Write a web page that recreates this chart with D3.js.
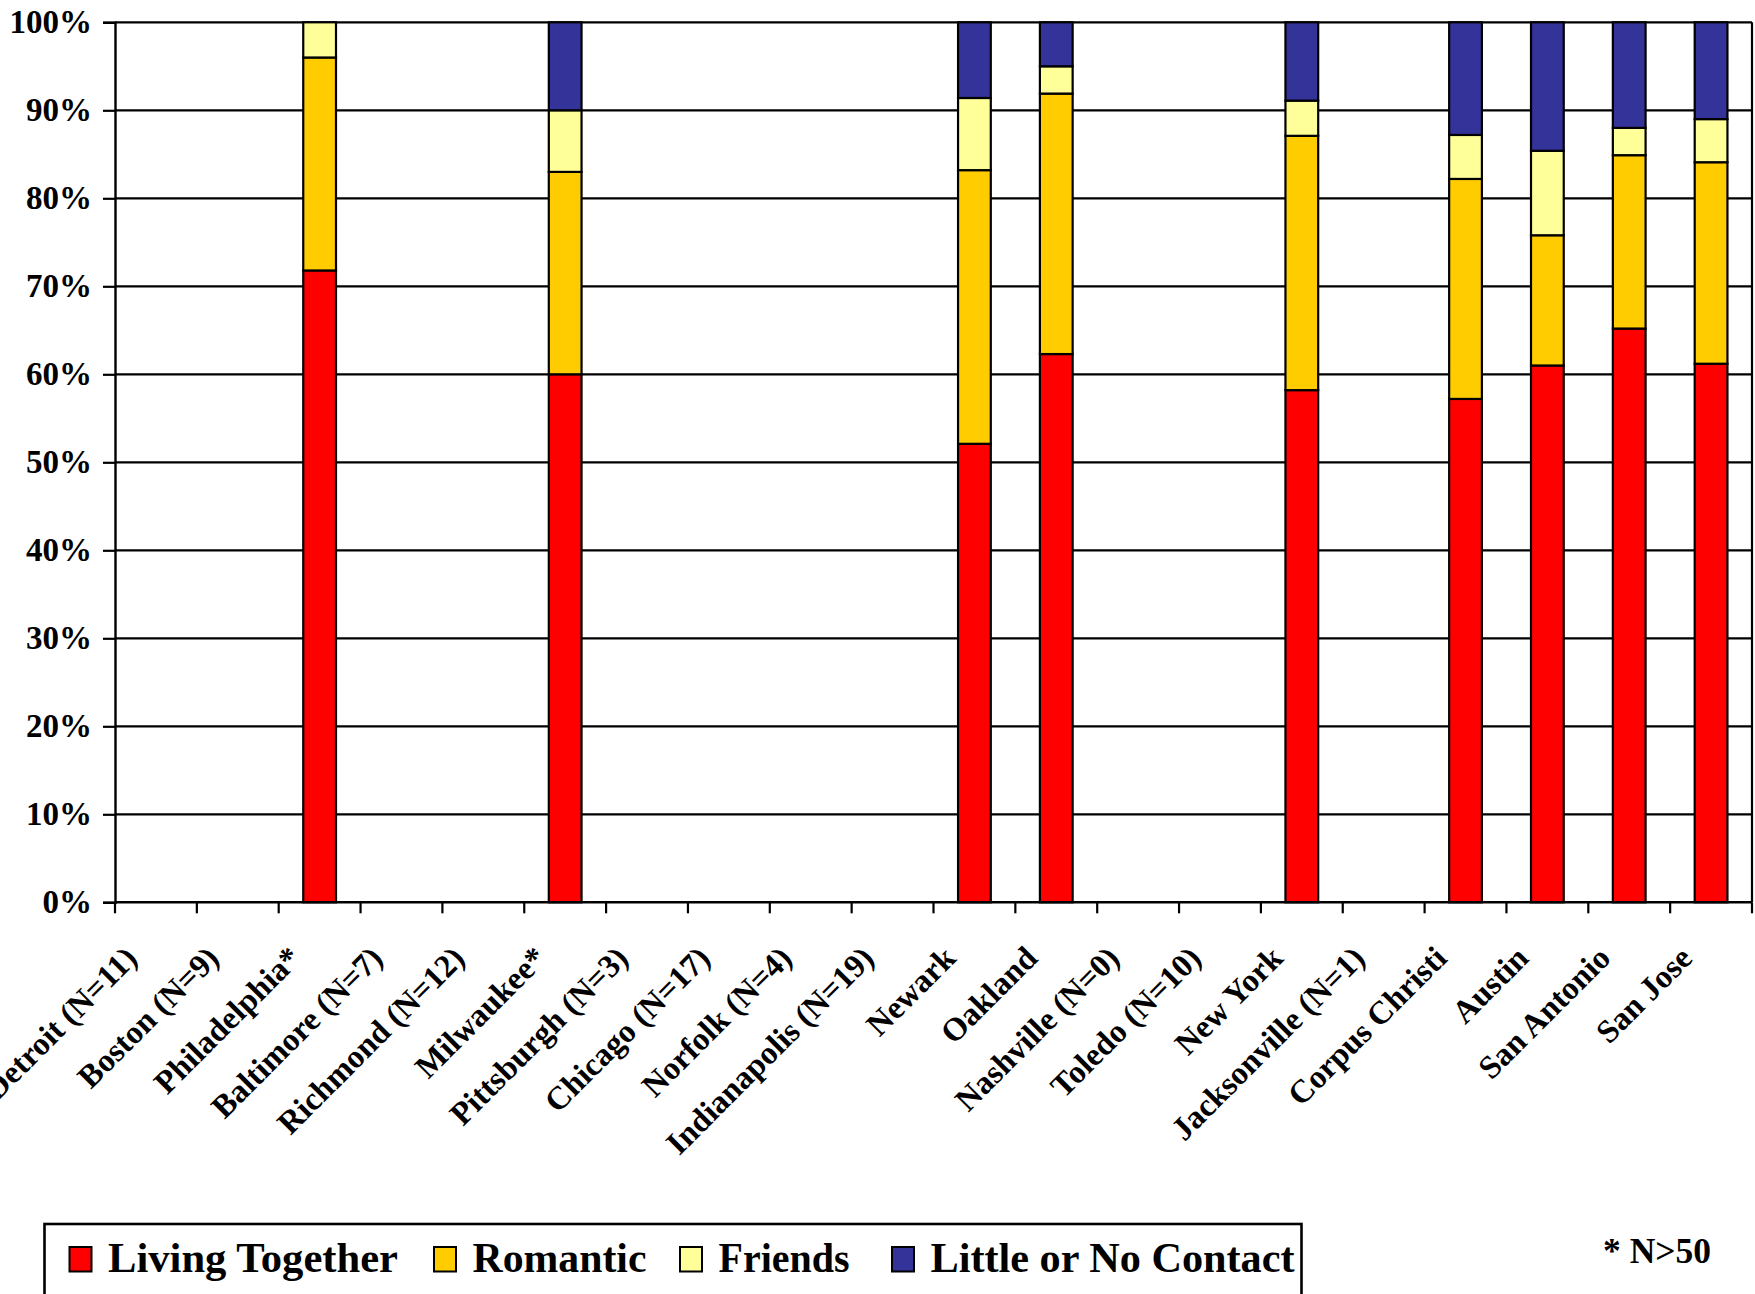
<!DOCTYPE html>
<html>
<head>
<meta charset="utf-8">
<script src="https://cdn.jsdelivr.net/npm/d3@7/dist/d3.min.js"></script>
<style>
  html, body { margin: 0; padding: 0; background: #fff; }
  svg { display: block; }
  text { font-family: "Liberation Serif", "Times New Roman", serif; font-weight: bold; fill: #000; }
</style>
</head>
<body>
<svg id="chart" width="1755" height="1294"></svg>
<script>
// Cities (N shown where the sample is small)
const categories = [
  "Detroit (N=11)", "Boston (N=9)", "Philadelphia*", "Baltimore (N=7)",
  "Richmond (N=12)", "Milwaukee*", "Pittsburgh (N=3)", "Chicago (N=17)",
  "Norfolk (N=4)", "Indianapolis (N=19)", "Newark", "Oakland",
  "Nashville (N=0)", "Toledo (N=10)", "New York", "Jacksonville (N=1)",
  "Corpus Christi", "Austin", "San Antonio", "San Jose"
];

// Share of each relationship type, in percent
const livingTogether = [0, 0, 71.8, 0, 0, 60.0, 0, 0, 0, 0, 52.1, 62.3, 0, 0, 58.2, 0, 57.2, 61.0, 65.2, 61.2];
const romantic       = [0, 0, 24.2, 0, 0, 23.0, 0, 0, 0, 0, 31.1, 29.6, 0, 0, 28.9, 0, 25.0, 14.8, 19.7, 22.9];
const friends        = [0, 0,  4.0, 0, 0,  7.0, 0, 0, 0, 0,  8.2,  3.1, 0, 0,  4.0, 0,  5.0,  9.6,  3.1,  4.9];
const littleContact  = [0, 0,  0.0, 0, 0, 10.0, 0, 0, 0, 0,  8.6,  5.0, 0, 0,  8.9, 0, 12.8, 14.6, 12.0, 11.0];

const seriesNames = ["Living Together", "Romantic", "Friends", "Little or No Contact"];
const seriesColors = ["#FF0000", "#FFCC00", "#FFFF99", "#333399"];
const yTicks = [0, 0.1, 0.2, 0.3, 0.4, 0.5, 0.6, 0.7, 0.8, 0.9, 1.0];
const footnote = "* N>50";

const seriesValues = [livingTogether, romantic, friends, littleContact];
const rows = categories.map((c, i) => {
  const r = { city: c };
  seriesNames.forEach((s, k) => { r[s] = seriesValues[k][i] / 100; });
  return r;
});

const svg = d3.select("#chart");
const plot = { left: 115, right: 1752, top: 22.3, bottom: 902.3 };

const x = d3.scaleBand()
  .domain(categories)
  .range([plot.left, plot.right])
  .paddingInner(0.6)
  .paddingOuter(0.3);

const y = d3.scaleLinear().domain([0, 1]).range([plot.bottom, plot.top]);

const stacked = d3.stack().keys(seriesNames)(rows);
const color = d3.scaleOrdinal().domain(seriesNames).range(seriesColors);

// horizontal gridlines
svg.append("g")
  .selectAll("line")
  .data(yTicks.slice(1))
  .join("line")
  .attr("x1", plot.left).attr("x2", plot.right)
  .attr("y1", d => y(d)).attr("y2", d => y(d))
  .attr("stroke", "#000").attr("stroke-width", 2.2);

// right border of the plot area
svg.append("line")
  .attr("x1", plot.right).attr("x2", plot.right)
  .attr("y1", plot.top).attr("y2", plot.bottom)
  .attr("stroke", "#000").attr("stroke-width", 2.2);

// stacked bars
svg.append("g")
  .selectAll("g")
  .data(stacked)
  .join("g")
  .attr("fill", d => color(d.key))
  .selectAll("rect")
  .data(d => d.filter(p => p[1] - p[0] > 0))
  .join("rect")
  .attr("x", d => x(d.data.city))
  .attr("width", x.bandwidth())
  .attr("y", d => y(d[1]))
  .attr("height", d => y(d[0]) - y(d[1]))
  .attr("stroke", "#000")
  .attr("stroke-width", 2.2);

// y axis
const yAxis = svg.append("g")
  .attr("transform", `translate(${plot.left},0)`)
  .call(d3.axisLeft(y).tickValues(yTicks).tickFormat(d3.format(".0%")).tickSize(12).tickPadding(11));
yAxis.select(".domain").attr("stroke", "#000").attr("stroke-width", 2.4);
yAxis.selectAll(".tick line").attr("stroke", "#000").attr("stroke-width", 2.2);
yAxis.selectAll(".tick text")
  .style("font-family", "'Liberation Serif', 'Times New Roman', serif")
  .style("font-weight", "bold")
  .attr("font-size", 33)
  .attr("dy", "0.3em")
  .attr("fill", "#000");

// x axis: baseline and ticks at category boundaries
const step = x.step();
const bounds = d3.range(categories.length + 1).map(i => plot.left + i * step);
svg.append("line")
  .attr("x1", plot.left).attr("x2", plot.right)
  .attr("y1", plot.bottom).attr("y2", plot.bottom)
  .attr("stroke", "#000").attr("stroke-width", 2.4);
svg.append("g")
  .selectAll("line")
  .data(bounds)
  .join("line")
  .attr("x1", d => d).attr("x2", d => d)
  .attr("y1", plot.bottom).attr("y2", plot.bottom + 11)
  .attr("stroke", "#000").attr("stroke-width", 2.2);

// rotated city labels
svg.append("g")
  .selectAll("text")
  .data(categories)
  .join("text")
  .attr("font-size", 32.5)
  .attr("text-anchor", "end")
  .attr("transform", d => `translate(${x(d) + x.bandwidth() / 2 - 17},960) rotate(-45)`)
  .text(d => d);

// legend
const legend = svg.append("g");
legend.append("rect")
  .attr("x", 44.5).attr("y", 1224)
  .attr("width", 1257).attr("height", 120)
  .attr("fill", "none").attr("stroke", "#000").attr("stroke-width", 2.6);

const legendX = [69.5, 434, 680, 892];
const legendTextWidth = [290, 174, 131, 364];
seriesNames.forEach((name, i) => {
  legend.append("rect")
    .attr("x", legendX[i]).attr("y", 1247)
    .attr("width", 22).attr("height", 24.5)
    .attr("fill", seriesColors[i]).attr("stroke", "#000").attr("stroke-width", 2);
  legend.append("text")
    .attr("x", legendX[i] + 38.5).attr("y", 1272)
    .attr("font-size", 42)
    .attr("textLength", legendTextWidth[i])
    .attr("lengthAdjust", "spacingAndGlyphs")
    .text(name);
});

svg.append("text")
  .attr("x", 1603).attr("y", 1263)
  .attr("font-size", 35.5)
  .text(footnote);
</script>
</body>
</html>
